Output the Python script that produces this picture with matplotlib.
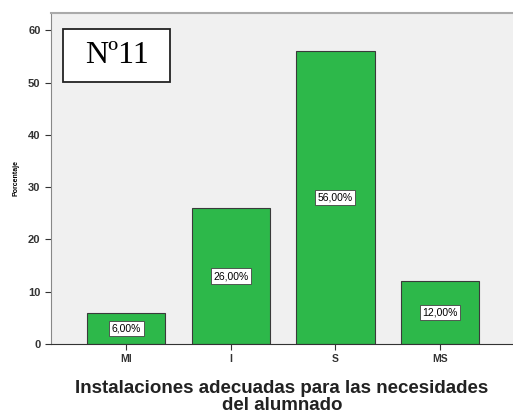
import matplotlib
matplotlib.use('Agg')
import matplotlib.pyplot as plt
from matplotlib.patches import Rectangle

categorias = ['MI', 'I', 'S', 'MS']
porcentajes = [6.0, 26.0, 56.0, 12.0]
etiquetas = ['6,00%', '26,00%', '56,00%', '12,00%']

plt.rcParams['font.family'] = ['Liberation Sans', 'DejaVu Sans']

fig = plt.figure(figsize=(5.13, 4.16), dpi=100)
ax = fig.add_axes([51 / 513, 1 - 344 / 416, 462 / 513, 331 / 416])
ax.set_facecolor('#f0f0f0')

x = range(len(categorias))
ax.bar(x, porcentajes, width=0.75, color='#2db84a', edgecolor='#3a3a3a', linewidth=0.8)

for xi, v, t in zip(x, porcentajes, etiquetas):
    ax.text(xi, v / 2, t, ha='center', va='center', fontsize=7.5,
            bbox=dict(boxstyle='square,pad=0.25', facecolor='white', edgecolor='#444444', linewidth=0.6))

ax.set_xlim(-0.72, 3.70)
ax.set_ylim(0, 63.3)
ax.set_xticks(list(x))
ax.set_xticklabels(categorias, fontsize=7.5, fontweight='bold', color='#333333')
ax.set_yticks([0, 10, 20, 30, 40, 50, 60])
ax.tick_params(axis='y', labelsize=8, colors='#333333', length=4, width=0.8)
ax.tick_params(axis='x', length=4, width=0.8, colors='#333333')
for lbl in ax.get_yticklabels():
    lbl.set_fontweight('bold')

ax.spines['right'].set_visible(False)
ax.spines['top'].set_color('#aaaaaa')
ax.spines['top'].set_linewidth(1.5)
ax.spines['left'].set_color('#888888')
ax.spines['bottom'].set_color('#333333')

ax.set_ylabel('Porcentaje', fontsize=5, fontweight='bold', labelpad=6)
ax.set_xlabel('Instalaciones adecuadas para las necesidades\ndel alumnado',
              fontsize=13.5, fontweight='bold', color='#222222', linespacing=1.0, labelpad=11)

# recuadro Nº11
ax.add_patch(Rectangle((0.026, 0.792), 0.232, 0.160, transform=ax.transAxes,
                       facecolor='white', edgecolor='#222222', linewidth=1.3, zorder=5))
ax.text(0.142, 0.872, 'Nº11', transform=ax.transAxes, ha='center', va='center',
        fontsize=23, family='Liberation Serif', zorder=6)

fig.savefig('out.png', dpi=100)
